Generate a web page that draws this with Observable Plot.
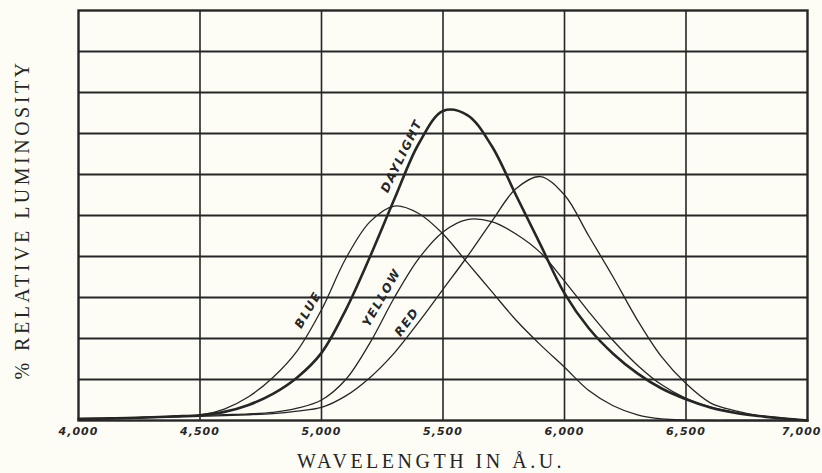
<!DOCTYPE html>
<html><head><meta charset="utf-8">
<script src="https://cdn.jsdelivr.net/npm/d3@7"></script>
<script src="https://cdn.jsdelivr.net/npm/@observablehq/plot@0.6"></script>
<style>
body{margin:0;background:#fdfdf6;}
#chart svg{background:#fdfdf6;display:block;}
</style>
</head><body><div id="chart"></div>
<script>
const wavelengths = [4000,4100,4200,4300,4400,4500,4600,4700,4800,4900,5000,5100,5200,5300,5400,5500,5600,5700,5800,5900,6000,6100,6200,6300,6400,6500,6600,6700,6800,6900,7000];
const daylight = [0.4,0.5,0.6,0.8,1.0,1.3,2.1,3.8,6.5,10.5,16.5,27,40,54,67.5,75.5,74.5,67,55,43,31,22.5,16.3,11.5,7.8,5.2,3.2,1.9,1.1,0.5,0];
const blue     = [0.4,0.5,0.6,0.8,1.0,1.3,2.8,5.8,10.5,17,27,39.5,48.5,52.3,50.5,45.5,38.5,31.5,24.5,18.5,13,7.3,3.6,1.4,0.4,0.1,0,0,0,0,0];
const yellow   = [0.4,0.5,0.6,0.8,1.0,1.2,1.4,1.6,2.0,3.0,5,10,19,30,39.5,46,49,48.5,45.5,41,34,26.5,19.5,13.5,8.7,5.4,3.3,2,1.1,0.5,0];
const red      = [0.3,0.4,0.5,0.7,0.9,1.0,1.2,1.4,1.7,2.3,3.2,6,10.5,16.5,24,32,40,48.5,56.5,59.5,55,45,35,24.5,15.5,9,4.3,2.4,1.2,0.6,0];
const seriesNames = ["DAYLIGHT","BLUE","YELLOW","RED"];
const xTicks = [4000,4500,5000,5500,6000,6500,7000];
const xTickLabels = ["4,000","4,500","5,000","5,500","6,000","6,500","7,000"];
const yTicks = [10,20,30,40,50,60,70,80,90];
const xTitle = "WAVELENGTH IN Å.U.";
const yTitle = "% RELATIVE LUMINOSITY";

const seriesValues = {DAYLIGHT: daylight, BLUE: blue, YELLOW: yellow, RED: red};
const rows = seriesNames.flatMap(name => wavelengths.map((w, i) => ({series: name, wavelength: w, value: seriesValues[name][i]})));
const tickRows = xTicks.map((t, i) => ({tick: t, label: xTickLabels[i]}));

const curveLabels = [
  {text: "BLUE", wavelength: 4945, value: 27, angle: -60},
  {text: "DAYLIGHT", wavelength: 5330, value: 64.5, angle: -64},
  {text: "YELLOW", wavelength: 5248, value: 30, angle: -60},
  {text: "RED", wavelength: 5352, value: 24, angle: -53}
];

const ink = "#262626";
const tickFont = {fontSize: 11, fontStyle: "italic", fontWeight: "bold", fontFamily: "DejaVu Sans", fill: ink};
const chart = Plot.plot({
  width: 822,
  height: 473,
  marginLeft: 78,
  marginRight: 15,
  marginTop: 10,
  marginBottom: 53,
  style: {background: "#fdfdf6", overflow: "visible"},
  x: {domain: [4000, 7000], axis: null},
  y: {domain: [0, 100], axis: null},
  marks: [
    Plot.gridX(xTicks.slice(1, -1), {stroke: ink, strokeOpacity: 1, strokeWidth: 1.6}),
    Plot.gridY(yTicks, {stroke: ink, strokeOpacity: 1, strokeWidth: 1.8}),
    Plot.line(rows, {
      x: "wavelength", y: "value", z: "series", curve: "catmull-rom",
      stroke: ink,
      strokeWidth: d => d.series === "DAYLIGHT" ? 2.6 : 1.3
    }),
    Plot.frame({stroke: ink, strokeWidth: 2.4}),
    Plot.text(tickRows.slice(0, -1), {
      x: "tick", frameAnchor: "bottom", text: "label", lineAnchor: "top", dy: 7, ...tickFont
    }),
    Plot.text(tickRows.slice(-1), {
      x: "tick", frameAnchor: "bottom", text: "label", lineAnchor: "top", dy: 7, textAnchor: "end", dx: 14, ...tickFont
    }),
    Plot.text(curveLabels, {
      x: "wavelength", y: "value", text: "text", rotate: d => d.angle,
      fontSize: 12, fontStyle: "italic", fontWeight: "bold", fontFamily: "DejaVu Sans",
      fill: ink
    }),
    Plot.text([xTitle], {
      frameAnchor: "bottom", lineAnchor: "middle", dx: -12, dy: 41, text: d => d,
      fontSize: 20, fontFamily: "Liberation Serif", fill: ink
    }),
    Plot.text([yTitle], {
      frameAnchor: "left", textAnchor: "middle", lineAnchor: "middle", dx: -56, dy: 4, rotate: -90, text: d => d,
      fontSize: 20, fontFamily: "Liberation Serif", fill: ink
    })
  ]
});
d3.select(chart).selectAll("text").each(function() {
  const t = this.textContent;
  let ls = null;
  if (t === xTitle || t === yTitle) ls = "3.5px";
  else if (xTickLabels.includes(t)) ls = "1px";
  else if (seriesNames.includes(t)) ls = "1.6px";
  if (ls) this.style.letterSpacing = ls;
});
document.getElementById("chart").append(chart);
</script></body></html>
